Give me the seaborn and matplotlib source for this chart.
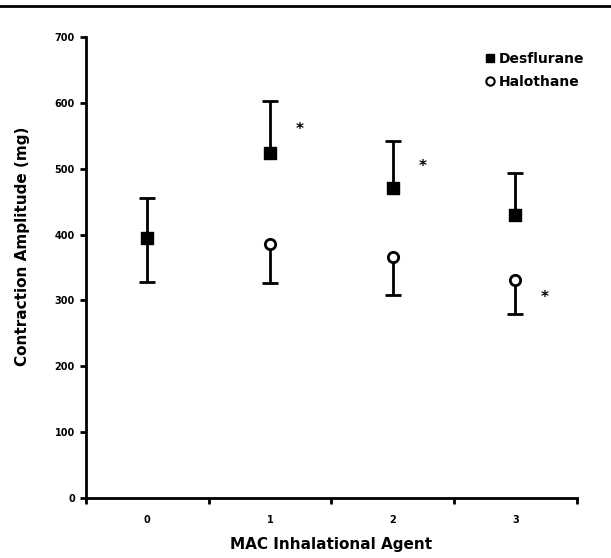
import matplotlib
matplotlib.use("Agg")
import matplotlib.pyplot as plt
import seaborn as sns
import pandas as pd
from matplotlib.lines import Line2D

mac_labels = ["0", "1", "2", "3"]
mac_pos = [0, 1, 2, 3]
des_mean = [395, 524, 471, 429]
des_sd = [60, 79, 71, 64]
hal_mean = [395, 385, 366, 331]
hal_sd = [67, 59, 58, 52]
y_ticks = [0, 100, 200, 300, 400, 500, 600, 700]
# significance marks: (series, x index)
sig_marks = [("des", 1), ("des", 2), ("hal", 3)]

sns.set_theme(style="white")
plt.rcParams['font.family'] = ['DejaVu Sans']
plt.rcParams['font.weight'] = 'bold'
for k in ["text.color", "axes.labelcolor", "xtick.color", "ytick.color"]:
    plt.rcParams[k] = "black"

fig = plt.figure(figsize=(6.11, 5.58), dpi=100)
ax = fig.add_axes([0.1408, 0.1075, 0.8032, 0.8262])

df_des = pd.DataFrame({"x": mac_pos, "y": des_mean, "Agent": "Desflurane"})
df_hal = pd.DataFrame({"x": mac_pos, "y": hal_mean, "Agent": "Halothane"})

# one-sided error bars: Halothane lower, Desflurane upper
hal_low = [m - s for m, s in zip(hal_mean, hal_sd)]
des_high = [m + s for m, s in zip(des_mean, des_sd)]
ax.vlines(mac_pos, hal_low, hal_mean, color="black", linewidth=2, zorder=2)
ax.vlines(mac_pos, des_mean, des_high, color="black", linewidth=2, zorder=2)
ax.plot(mac_pos, hal_low, linestyle="none", marker="_", markersize=11,
        markeredgewidth=2, color="black", zorder=2)
ax.plot(mac_pos, des_high, linestyle="none", marker="_", markersize=11,
        markeredgewidth=2, color="black", zorder=2)

sns.scatterplot(data=df_hal, x="x", y="y", marker="o", s=55, facecolor="white",
                edgecolor="black", linewidth=2, ax=ax, zorder=3, legend=False)
sns.scatterplot(data=df_des, x="x", y="y", marker="s", s=70, color="black",
                edgecolor="black", linewidth=1, ax=ax, zorder=4, legend=False)

for series, i in sig_marks:
    yv = des_mean[i] + 0.45 * des_sd[i] if series == "des" else hal_mean[i] - 0.5 * hal_sd[i]
    ax.text(mac_pos[i] + 0.24, yv, "*", fontsize=11, fontweight="bold",
            ha="center", va="center")

ax.set_xlim(-0.5, 3.5)
ax.set_ylim(0, 700)
ax.set_yticks(y_ticks)
ax.set_yticklabels([str(t) for t in y_ticks], fontsize=7, fontweight="bold")
ax.set_xticks(mac_pos)
ax.set_xticklabels(mac_labels, fontsize=7, fontweight="bold")
ax.set_xticks([-0.5, 0.5, 1.5, 2.5, 3.5], minor=True)
ax.tick_params(axis="x", which="major", length=0, pad=12)
ax.tick_params(axis="x", which="minor", length=4, width=2, direction="out", color="black", bottom=True)
ax.tick_params(axis="y", length=4, width=2, direction="out", color="black", left=True, pad=4)

for s in ["top", "right"]:
    ax.spines[s].set_visible(False)
for s in ["left", "bottom"]:
    ax.spines[s].set_color("black")
    ax.spines[s].set_linewidth(2)

ax.set_xlabel("MAC Inhalational Agent", fontsize=11, fontweight="bold", labelpad=9)
ax.set_ylabel("Contraction Amplitude (mg)", fontsize=11, fontweight="bold")
ax.yaxis.set_label_coords(-0.115, 0.545)

handles = [
    Line2D([], [], marker="s", color="black", linestyle="none", markersize=6),
    Line2D([], [], marker="o", markerfacecolor="white", markeredgecolor="black",
           markeredgewidth=1.5, linestyle="none", markersize=6),
]
leg = ax.legend(handles, ["Desflurane", "Halothane"], loc="upper left",
                bbox_to_anchor=(0.783, 0.995), frameon=False, handletextpad=0.15,
                handlelength=1.0, labelspacing=0.65,
                prop={"size": 10, "weight": "bold"})

fig.add_artist(Line2D([0, 1], [0.989, 0.989], transform=fig.transFigure,
                      color="black", linewidth=2))

fig.savefig("out.png", dpi=100, facecolor="white")
